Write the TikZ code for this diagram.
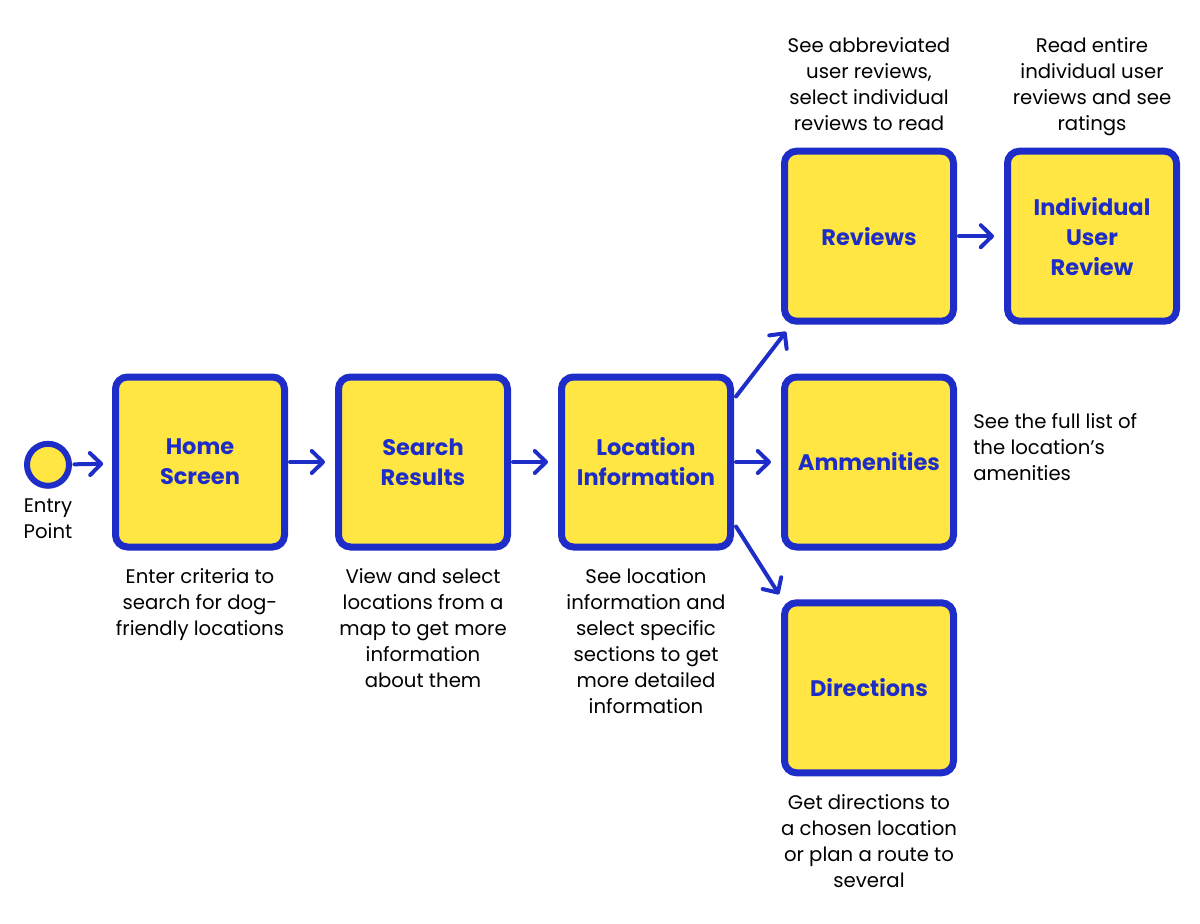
\documentclass[tikz,border=0pt]{standalone}
\usepackage{fontspec}
\setmainfont{Poppins}
\usepackage{tikz}
\usetikzlibrary{arrows.meta,positioning,shadows,calc}
\definecolor{flowblue}{RGB}{31,45,200}
\definecolor{flowyellow}{RGB}{255,230,66}

\begin{document}
\begin{tikzpicture}[
    node distance=1.22cm and 1.175cm,
    screen/.style={rectangle, rounded corners=0.3cm, draw=flowblue, line width=0.175cm, fill=flowyellow,
        minimum width=4.225cm, minimum height=4.25cm, align=center, text=flowblue,
        font=\fontsize{16}{21.3}\selectfont\bfseries,
        drop shadow={opacity=0.12, shadow xshift=0.04cm, shadow yshift=-0.08cm}},
    entry/.style={circle, draw=flowblue, line width=0.15cm, fill=flowyellow, minimum size=1.05cm, inner sep=0pt},
    note/.style={align=center, font=\fontsize{14}{18.5}\selectfont, inner sep=0pt},
    arrow/.style={-{Straight Barb[length=0.28cm, width=0.55cm, round]}, line width=0.1cm, draw=flowblue,
        line cap=round, shorten <=0.05cm, shorten >=0.25cm},
]
\useasboundingbox (0,0) rectangle (30,-23.1);

% Screens
\node[screen] (home) at (5,-11.55) {Home\\Screen};
\node[screen, right=of home] (search) {Search\\Results};
\node[screen, right=of search] (loc) {Location\\Information};
\node[screen, right=of loc] (amen) {Ammenities};
\node[screen, above=of amen] (reviews) {Reviews};
\node[screen, below=of amen] (dir) {Directions};
\node[screen, right=of reviews] (indiv) {Individual\\User\\Review};

% Entry point
\node[entry] (start) at (1.2,-11.62) {};
\node[note, below=0.25cm of start] (startlbl) {Entry\\Point};

% Notes
\node[note, anchor=north, below=0.45cm of home] (homenote) {Enter criteria to\\search for dog-\\friendly locations};
\node[note, anchor=north, below=0.45cm of search] (searchnote) {View and select\\locations from a\\map to get more\\information\\about them};
\node[note, anchor=north, below=0.45cm of loc] (locnote) {See location\\information and\\select specific\\sections to get\\more detailed\\information};
\node[note, anchor=south, above=0.42cm of reviews] (reviewsnote) {See abbreviated\\user reviews,\\select individual\\reviews to read};
\node[note, anchor=south, above=0.3cm of indiv] (indivnote) {Read entire\\individual user\\reviews and see\\ratings};
\node[note, align=left, anchor=north west] (amennote) at ([xshift=0.4cm, yshift=-1.0cm]amen.north east) {See the full list of\\the location’s\\amenities};
\node[note, anchor=north, below=0.45cm of dir] (dirnote) {Get directions to\\a chosen location\\or plan a route to\\several};

% Arrows
\draw[arrow, shorten <=0.06cm, shorten >=0.22cm] (start) -- (home);
\draw[arrow] (home) -- (search);
\draw[arrow] (search) -- (loc);
\draw[arrow] (loc) -- (amen);
\draw[arrow] (reviews) -- (indiv);
\draw[arrow, shorten <=0pt, shorten >=0pt] ([shift={(0.05,-0.575)}]loc.north east) -- ([shift={(0.125,-0.175)}]reviews.south west);
\draw[arrow, shorten <=0pt, shorten >=0pt] ([shift={(0.05,0.6)}]loc.south east) -- ([shift={(-0.05,0.125)}]dir.north west);

\end{tikzpicture}
\end{document}
